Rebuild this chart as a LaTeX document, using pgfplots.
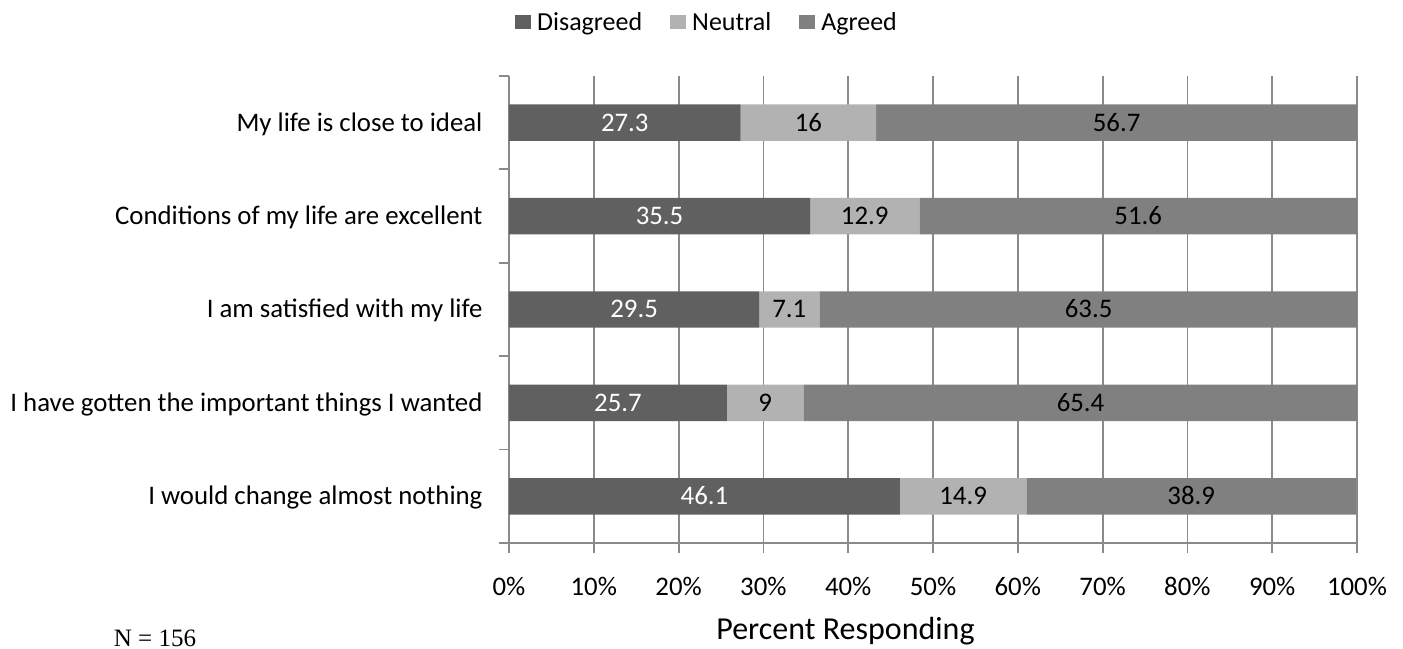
\documentclass[border=0pt]{standalone}
\usepackage{pgfplots}
\pgfplotsset{compat=1.18}
\usepackage{pgfplotstable}
\usepackage{fontspec}
\setmainfont{Carlito}
\newfontfamily\notefont{Liberation Serif}

\definecolor{cDis}{HTML}{606060}
\definecolor{cNeu}{HTML}{B2B2B2}
\definecolor{cAgr}{HTML}{808080}
\definecolor{cGrid}{HTML}{8A8A8A}

% Satisfaction With Life items, percent of respondents (idx 0 = bottom row)
\pgfplotstableread{
idx d n a
4 27.3 16 56.7
3 35.5 12.9 51.6
2 29.5 7.1 63.5
1 25.7 9 65.4
0 46.1 14.9 38.9
}\swls

\newcommand{\lblfont}{\fontsize{26.8}{32}\selectfont}

\begin{document}
\begin{tikzpicture}[x=1pt,y=1pt]
\useasboundingbox (0,0) rectangle (1403,648);
\pgfplotsset{
  frame/.style={
    scale only axis, width=848pt, height=467pt,
    at={(509pt,105pt)}, anchor=south west,
    xmin=0, xmax=100, ymin=-0.5, ymax=4.5,
  },
  sq/.style={legend image code/.code={\fill[##1] (0pt,-7pt) rectangle (16pt,7pt);}},
}
\begin{axis}[frame,
  xbar stacked, bar width=0.39,
  axis x line*=bottom, axis y line*=left,
  axis line style={cGrid, line width=1.8pt},
  xtick={0,10,...,100},
  xticklabels={0\%,10\%,20\%,30\%,40\%,50\%,60\%,70\%,80\%,90\%,100\%},
  xmajorgrids, grid style={cGrid, line width=1.8pt},
  tick align=outside, major tick length=10pt,
  tick style={cGrid, line width=1.8pt},
  ytick={-0.5,0.5,...,4.5}, yticklabels={},
  extra y ticks={0,1,2,3,4},
  extra y tick labels={I would change almost nothing,
    I have gotten the important things I wanted,
    I am satisfied with my life,
    Conditions of my life are excellent,
    My life is close to ideal},
  extra y tick style={major tick length=0pt, ymajorgrids=false,
    yticklabel style={anchor=base east, yshift=-8.5pt, xshift=-23pt}},
  tick label style={font=\lblfont, text=black},
  xticklabel style={inner sep=0pt, anchor=north, yshift=-24pt},
  xlabel={Percent Responding},
  xlabel style={font=\fontsize{32}{38}\selectfont, anchor=base,
    at={(axis description cs:0.3968,-0.2056)}},
  legend columns=3,
  legend style={draw=none, font=\fontsize{26}{31}\selectfont,
    at={(axis description cs:0.0035,1.1156)}, anchor=west,
    nodes={inner sep=0pt},
    /tikz/every odd column/.append style={column sep=6pt},
    /tikz/every even column/.append style={column sep=28pt}},
]
\addplot[fill=cDis, draw=none, sq] table[x=d, y=idx] {\swls};
\addplot[fill=cNeu, draw=none, sq] table[x=n, y=idx] {\swls};
\addplot[fill=cAgr, draw=none, sq] table[x=a, y=idx] {\swls};
\legend{Disagreed, Neutral, Agreed}
\end{axis}

% value labels, centred on each segment
\begin{axis}[frame, hide axis,
  /pgf/number format/assume math mode=true,
  every node near coord/.append style={font=\lblfont, inner sep=0pt},
]
\addplot[draw=none, mark=none, nodes near coords, point meta=explicit,
  every node near coord/.append style={text=white, anchor=base, yshift=-8.5pt}]
  table[x expr=\thisrow{d}/2, y=idx, meta=d] {\swls};
\addplot[draw=none, mark=none, nodes near coords, point meta=explicit,
  every node near coord/.append style={text=black, anchor=base, yshift=-8.5pt}]
  table[x expr=\thisrow{d}+\thisrow{n}/2, y=idx, meta=n] {\swls};
\addplot[draw=none, mark=none, nodes near coords, point meta=explicit,
  every node near coord/.append style={text=black, anchor=base, yshift=-8.5pt}]
  table[x expr=\thisrow{d}+\thisrow{n}+\thisrow{a}/2, y=idx, meta=a] {\swls};
\end{axis}

\node[font=\notefont\fontsize{25}{30}\selectfont, anchor=base] at (155,1.5) {N = 156};
\end{tikzpicture}
\end{document}
